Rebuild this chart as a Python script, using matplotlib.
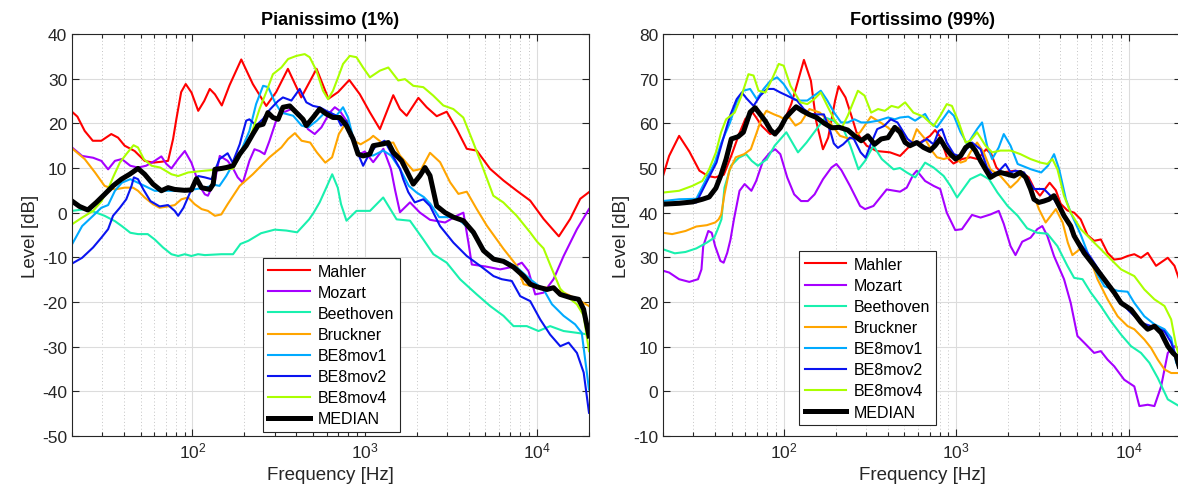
import numpy as np
import matplotlib
matplotlib.use("Agg")
import matplotlib.pyplot as plt

plt.rcParams['font.family'] = ['Liberation Sans', 'DejaVu Sans']
plt.rcParams['axes.unicode_minus'] = False

names = ["Mahler", "Mozart", "Beethoven", "Bruckner", "BE8mov1", "BE8mov2", "BE8mov4", "MEDIAN"]
colors = ["#ff0000", "#a600ff", "#19f0ae", "#ffa500", "#00aaff", "#0a14f0", "#aaff00", "#000000"]

# ---- Pianissimo (1%) ----
pia_mahler_hz = [20, 21.5, 23.7, 26.4, 29.6, 33.8, 37, 40.4, 46.2, 52.8, 59, 66, 72.2, 77.2, 80.7, 86, 91.4, 98.7, 108, 117, 126, 135, 148, 164, 192, 224, 268, 306, 358, 428, 525, 615, 700, 813, 936, 1069, 1224, 1338, 1463, 1600, 1749, 2046, 2287, 2614, 2988, 3415, 3905, 4463, 5339, 6380, 7627, 9115, 10900, 13370, 15560, 17790, 20000]
pia_mahler_db = [22.6, 21.5, 18.3, 16.1, 16.1, 17.6, 16.8, 15.0, 13.8, 11.6, 11.2, 11.4, 11.6, 16.5, 21.0, 27.0, 28.8, 26.9, 22.8, 25.0, 27.7, 26.5, 24.0, 28.5, 34.3, 28.8, 23.9, 27.0, 32.2, 25.8, 32.2, 25.5, 27.0, 29.7, 26.5, 22.5, 18.7, 22.5, 26.3, 23.2, 21.7, 25.7, 23.6, 21.6, 22.6, 18.7, 14.3, 13.9, 9.8, 7.2, 4.9, 2.7, -1.4, -5.3, -1.4, 3.1, 4.6]

pia_mozart_hz = [20, 22.9, 26.5, 29.6, 32.4, 35.5, 38.9, 43.6, 48.3, 53.8, 60.4, 66, 70.6, 75.5, 82.6, 90.3, 98.6, 110, 118, 123, 135, 144, 160, 171, 183, 196, 214, 229, 245, 262, 280, 306, 335, 375, 419, 468, 512, 560, 626, 670, 716, 782, 855, 935, 1000, 1119, 1282, 1418, 1500, 1600, 1829, 2091, 2390, 2924, 3415, 3734, 3993, 4177, 5105, 6100, 7296, 8150, 8910, 9750, 10900, 12450, 14250, 17020, 20000]
pia_mozart_db = [14.6, 12.7, 12.3, 11.6, 9.7, 11.6, 12.0, 10.5, 10.1, 10.5, 11.6, 12.6, 10.9, 9.9, 12.0, 13.8, 11.2, 6.0, 4.1, 3.8, 7.1, 12.7, 11.6, 10.1, 7.9, 6.7, 11.6, 14.2, 13.8, 13.1, 16.1, 20.6, 22.4, 23.2, 22.1, 18.7, 17.6, 19.1, 22.4, 23.6, 22.8, 20.6, 16.8, 13.1, 13.7, 11.3, 14.3, 9.8, 5.0, 0.1, 2.3, 0.0, -1.6, -2.2, -0.7, 0.0, -6.7, -11.6, -12.1, -12.7, -12.1, -11.2, -13.1, -18.3, -17.9, -14.9, -9.7, -3.7, 0.8]

pia_beethoven_hz = [20, 24, 27.7, 30.9, 35.5, 38.9, 43.6, 48.3, 55, 60.4, 67.5, 75.5, 82.6, 90.3, 98.6, 107.7, 118, 147, 172, 190, 211, 250, 300, 350, 405, 440, 475, 505, 547, 598, 647, 697, 728, 783, 895, 1072, 1279, 1530, 1829, 2186, 2500, 2988, 3570, 4463, 5339, 6380, 7296, 8710, 10180, 11900, 14250, 17020, 20000]
pia_beethoven_db = [0.4, 0.8, 0.0, -0.7, -1.9, -3.0, -4.5, -4.8, -4.8, -6.0, -7.8, -9.3, -9.7, -9.3, -9.7, -9.3, -9.5, -9.3, -9.3, -7.0, -6.3, -4.6, -3.8, -4.0, -4.4, -2.9, -1.5, 0.0, 2.3, 5.6, 8.6, 5.6, 1.9, -1.8, 0.4, 0.4, 3.4, -1.5, -1.8, -6.0, -9.3, -11.2, -14.9, -18.3, -20.9, -23.1, -25.4, -25.4, -26.5, -25.4, -26.5, -26.9, -27.3]

pia_bruckner_hz = [20, 23.7, 27.2, 30.9, 35.5, 40.4, 45.2, 48.3, 52.8, 59, 64.5, 72.2, 78.9, 86.3, 94.4, 103, 113, 123, 135, 147, 160, 188, 224, 280, 328, 359, 393, 430, 482, 527, 590, 646, 707, 791, 865, 946, 1069, 1119, 1282, 1463, 1600, 1911, 2130, 2390, 2735, 3127, 3494, 3905, 4463, 5105, 6380, 7627, 8340, 9530, 11400, 13620, 16300, 20000]
pia_bruckner_db = [14.4, 12.0, 9.0, 6.0, 5.2, 5.6, 5.6, 4.9, 3.4, 1.9, 1.1, 1.4, 1.7, 3.0, 3.4, 1.9, 0.8, 0.4, -0.7, -0.4, 1.9, 6.0, 8.6, 12.4, 14.6, 16.5, 17.8, 16.1, 15.7, 13.5, 11.2, 12.4, 17.6, 20.6, 16.1, 15.3, 16.5, 17.2, 15.4, 15.7, 12.8, 9.4, 9.8, 13.4, 11.3, 6.8, 4.2, 4.7, 0.8, -2.9, -8.1, -11.9, -16.0, -16.6, -16.8, -17.5, -19.0, -20.9]

pia_be8mov1_hz = [20, 22.9, 26.5, 29.6, 32.4, 35.5, 38.9, 43.6, 48.3, 60.4, 75.5, 94.4, 118, 135, 143.5, 157, 172, 188, 214, 234, 257, 275, 301, 328, 384, 430, 470, 527, 576, 626, 684, 748, 800, 855, 935, 1000, 1119, 1279, 1418, 1600, 1800, 2000, 2200, 2400, 2700, 3100, 3500, 4000, 4500, 5100, 5800, 6700, 7600, 8300, 9115, 10900, 12190, 14250, 16610, 18150, 20000]
pia_be8mov1_db = [-7.1, -3.0, -0.7, 1.1, 1.7, 4.9, 6.7, 7.5, 6.7, 4.9, 4.9, 5.0, 5.6, 6.2, 6.0, 8.2, 10.9, 13.1, 18.3, 24.3, 28.4, 28.1, 24.7, 22.4, 21.7, 19.5, 19.1, 20.6, 22.1, 22.4, 21.7, 23.6, 21.3, 16.8, 13.1, 12.8, 12.8, 13.9, 12.8, 9.8, 6.0, 4.5, 3.5, 2.0, -1.0, -1.0, -1.5, -3.5, -6.0, -9.0, -10.5, -11.0, -12.2, -13.5, -14.9, -17.2, -20.5, -23.1, -25.0, -26.9, -39.6]

pia_be8mov2_hz = [20, 22.9, 26.5, 29.6, 32.4, 34.6, 37.9, 41.3, 44.3, 45.7, 48.3, 51.9, 57, 64.5, 72.2, 78.9, 82.6, 88.7, 98.6, 108, 118, 129, 143.5, 160, 171, 188, 205, 214, 234, 257, 280, 314, 335, 375, 419, 458, 501, 547, 598, 684, 728, 782, 855, 935, 978, 1049, 1167, 1301, 1418, 1600, 1671, 1788, 1950, 2186, 2390, 2733, 3266, 3905, 4670, 5585, 6240, 7130, 7980, 9115, 10420, 11900, 13620, 15230, 17020, 18630, 20000]
pia_be8mov2_db = [-11.4, -10.1, -7.8, -5.6, -3.7, -0.7, 1.1, 3.0, 6.0, 7.9, 7.5, 5.2, 2.6, 1.4, 1.7, 0.4, -0.7, 1.1, 5.2, 8.2, 7.9, 7.5, 12.0, 13.3, 11.2, 15.3, 20.6, 20.9, 19.5, 21.0, 23.0, 25.0, 25.8, 25.1, 27.7, 24.7, 23.9, 23.6, 22.8, 21.7, 19.5, 20.6, 16.1, 12.3, 10.5, 12.8, 15.0, 16.1, 13.5, 9.8, 7.5, 4.6, 2.3, 3.0, 1.5, -3.0, -6.7, -9.7, -11.9, -14.2, -14.9, -15.3, -18.7, -19.8, -23.9, -27.3, -29.9, -29.1, -31.4, -35.8, -44.8]

pia_be8mov4_hz = [20, 22.9, 26.5, 29.6, 33, 34.6, 37.9, 41.3, 45.5, 48.3, 52.2, 58, 65, 75.5, 82.6, 94.4, 118, 135, 147, 172, 193, 215, 245, 268, 293, 328, 359, 401, 448, 479, 524, 572, 612, 654, 700, 748, 818, 895, 977, 1071, 1224, 1369, 1564, 1711, 1912, 2185, 2497, 2855, 3263, 3729, 4262, 4871, 5567, 6363, 7612, 9101, 10000, 10900, 12000, 13600, 15200, 17000, 18600, 20000]
pia_be8mov4_db = [-2.6, -1.1, 0.4, 2.5, 6.0, 7.9, 11.2, 13.1, 15.1, 14.6, 12.0, 10.5, 10.1, 8.6, 8.2, 9.0, 9.4, 9.6, 9.7, 9.8, 13.5, 16.5, 23.2, 27.0, 31.0, 32.5, 34.4, 35.1, 35.5, 34.8, 31.8, 27.3, 25.4, 27.3, 30.3, 33.3, 35.1, 34.8, 32.5, 30.3, 31.8, 32.5, 29.6, 29.9, 28.4, 28.1, 26.2, 24.0, 23.2, 21.3, 15.7, 9.8, 3.8, 2.3, -0.7, -4.4, -6.5, -8.0, -12.0, -17.0, -19.0, -20.5, -23.0, -31.0]

pia_median_hz = [20, 22.1, 24.7, 27.7, 30.9, 34.6, 38.7, 43.2, 48.3, 52.8, 59, 66, 72.2, 78.9, 90.3, 98.6, 105.5, 112.8, 126, 132, 135, 147.5, 157, 172, 188, 205, 224, 240, 257, 274, 293, 314, 335, 367, 401, 438, 458, 501, 547, 598, 654, 716, 782, 855, 914, 977, 1069, 1119, 1279, 1368, 1463, 1636, 1911, 2091, 2236, 2390, 2614, 2924, 3266, 3734, 4270, 4883, 5585, 6380, 7296, 8340, 9115, 9970, 11400, 12450, 13620, 15560, 17410, 18600, 20000]
pia_median_db = [2.6, 1.4, 0.6, 2.3, 4.1, 6.0, 7.5, 8.6, 9.9, 8.6, 6.4, 4.9, 5.6, 5.2, 5.0, 5.1, 7.6, 5.6, 5.2, 6.4, 9.7, 9.9, 10.1, 10.5, 13.1, 15.0, 17.6, 19.5, 19.8, 22.4, 21.3, 20.9, 23.6, 23.9, 22.4, 20.9, 19.5, 21.3, 23.2, 22.1, 21.3, 21.3, 19.5, 16.5, 13.1, 12.7, 13.1, 15.0, 15.4, 15.7, 13.5, 11.6, 6.4, 8.3, 10.1, 8.3, 1.5, 0.0, -1.0, -1.8, -4.4, -8.5, -10.4, -10.9, -12.2, -14.2, -16.0, -16.6, -17.2, -16.8, -18.3, -19.0, -19.4, -21.6, -27.6]

# ---- Fortissimo (99%) ----
for_mahler_hz = [20, 21.7, 24.8, 28.4, 32.5, 36.5, 40.1, 45, 50, 55, 60, 66.2, 69.3, 74.3, 83.5, 91.7, 100.7, 110.6, 118, 131, 143.8, 154, 168.8, 181, 198.5, 208, 228, 250, 264, 302, 346, 413, 472, 540, 617, 704, 753, 806, 880, 962, 1077, 1204, 1329, 1488, 1594, 1706, 1826, 2190, 2398, 2625, 2815, 3050, 3470, 3770, 4020, 4395, 4810, 5250, 5740, 6280, 6870, 7510, 8200, 8990, 9810, 10730, 11730, 12830, 14340, 16760, 18340, 19500, 20000]
for_mahler_db = [48.2, 52.7, 57.2, 53.7, 49.4, 48.2, 47.9, 48.5, 53.0, 57.5, 61.0, 62.4, 61.3, 59.5, 57.6, 58.3, 60.6, 64.3, 68.0, 74.2, 69.5, 60.6, 54.2, 56.8, 65.1, 68.3, 65.8, 61.0, 58.0, 55.0, 53.8, 53.5, 52.7, 55.0, 55.7, 57.2, 58.5, 57.0, 52.5, 51.0, 52.0, 52.4, 52.0, 54.2, 53.1, 50.1, 49.0, 49.4, 49.0, 47.9, 45.5, 43.8, 46.7, 45.0, 42.0, 40.5, 40.0, 38.5, 35.0, 33.7, 34.0, 31.0, 29.5, 29.7, 30.3, 30.7, 29.9, 31.0, 28.1, 29.9, 28.1, 25.1, 24.5]

for_mozart_hz = [20, 21.7, 24.8, 28.4, 31.9, 33.4, 34.2, 36.6, 38.3, 40.1, 43, 44.9, 47.1, 49.2, 51.5, 55.5, 59.4, 65, 69.3, 75.9, 83.5, 89.3, 95.6, 104.8, 115, 126, 138, 151, 169, 189, 202, 216, 242, 277, 296, 331, 395, 472, 516, 563, 590, 659, 738, 806, 880, 985, 1077, 1232, 1381, 1575, 1760, 1882, 2060, 2200, 2407, 2690, 2940, 3145, 3364, 3676, 4204, 4595, 5025, 5494, 6280, 6865, 7510, 8210, 9380, 10730, 11480, 12830, 14030, 15340, 16770, 18340, 20000]
for_mozart_db = [27.0, 26.6, 25.1, 24.5, 25.1, 27.3, 32.5, 35.9, 35.5, 32.5, 29.2, 28.8, 31.0, 34.0, 38.5, 44.9, 46.4, 44.9, 47.1, 51.6, 53.5, 54.2, 53.1, 47.9, 44.1, 42.6, 42.6, 44.1, 47.5, 50.1, 50.9, 49.5, 46.0, 41.5, 40.8, 41.5, 45.2, 44.7, 45.6, 48.5, 49.4, 47.1, 46.0, 45.3, 40.0, 36.1, 36.3, 39.5, 38.9, 39.6, 40.4, 37.5, 32.5, 30.5, 33.5, 34.4, 36.3, 37.0, 34.8, 30.3, 25.1, 19.8, 12.4, 10.9, 8.6, 9.0, 7.1, 5.6, 2.6, 1.1, -3.3, -3.0, -3.3, 1.1, 8.6, 10.1, 9.4]

for_beethoven_hz = [20, 23.4, 27, 31.2, 35.9, 39.6, 41.5, 43.6, 45.4, 49.5, 55, 60.6, 65.3, 70.9, 80, 88.7, 103.6, 121, 135.6, 155, 174, 194, 222, 243, 271, 296, 331, 370, 433, 472, 516, 578, 659, 738, 845, 924, 1010, 1077, 1204, 1381, 1545, 1730, 1980, 2265, 2570, 2940, 3364, 3850, 4395, 4810, 5380, 6010, 6865, 7850, 8990, 10280, 11730, 13110, 14670, 16770, 19500, 20000]
for_beethoven_db = [31.8, 30.9, 31.2, 32.0, 33.3, 34.4, 36.3, 38.5, 45.6, 50.5, 52.3, 53.1, 51.6, 50.5, 52.0, 55.0, 58.0, 53.5, 55.7, 58.7, 61.3, 60.6, 58.7, 55.0, 49.7, 51.6, 55.0, 52.0, 49.7, 50.0, 49.0, 47.9, 51.2, 50.1, 48.2, 46.0, 43.4, 44.9, 47.5, 48.6, 47.5, 44.5, 41.5, 39.3, 36.5, 35.5, 35.3, 32.5, 28.1, 25.4, 25.1, 22.1, 19.1, 15.7, 12.7, 10.1, 8.6, 6.4, 3.0, -1.8, -3.3, -3.4]

for_bruckner_hz = [20, 22.6, 27, 31.2, 35.9, 40.1, 42, 43.5, 45.4, 48.4, 52.8, 59, 64.5, 69.3, 74.3, 79.4, 88, 95, 100, 108, 117, 126, 141, 162, 185, 212, 242, 277, 320, 370, 420, 472, 505, 539, 590, 659, 720, 772, 845, 967, 1058, 1132, 1204, 1318, 1440, 1575, 1801, 2060, 2265, 2463, 2690, 3006, 3290, 3522, 3770, 4127, 4420, 4700, 5260, 5880, 6565, 7510, 8590, 9810, 10730, 12270, 13420, 14670, 16050, 17540, 20000]
for_bruckner_db = [35.5, 35.2, 35.9, 36.9, 37.2, 37.8, 38.5, 39.6, 44.1, 49.4, 52.4, 53.1, 54.2, 57.6, 61.0, 62.8, 62.0, 61.5, 61.0, 61.3, 59.5, 60.2, 63.2, 62.4, 60.2, 57.2, 56.5, 58.0, 61.5, 60.0, 58.5, 59.1, 56.5, 54.6, 58.7, 56.5, 53.9, 52.4, 52.0, 52.7, 51.2, 51.6, 53.5, 55.7, 53.5, 49.7, 48.2, 45.6, 47.1, 49.0, 46.0, 40.8, 37.8, 39.3, 40.8, 37.8, 33.3, 30.5, 32.0, 30.3, 25.1, 20.6, 16.8, 14.6, 13.9, 11.6, 9.7, 7.1, 4.9, 4.1, 4.1]

for_be8mov1_hz = [20, 24.8, 31.2, 35.6, 39.9, 43.6, 48.9, 53.4, 58.4, 63.9, 69.9, 76.5, 83.7, 91.6, 100, 114, 125, 137, 150, 164, 179, 196, 215, 235, 257, 281, 307, 352, 402, 440, 472, 527, 577, 659, 704, 772, 903, 967, 1058, 1158, 1318, 1409, 1506, 1612, 1760, 1882, 2060, 2265, 2710, 3100, 3390, 3680, 3940, 4310, 4595, 5260, 5900, 6600, 7200, 8590, 9810, 10730, 12270, 14030, 16050, 17540, 18760, 20000]
for_be8mov1_db = [42.6, 43.0, 43.1, 47.5, 51.2, 55.7, 60.2, 64.7, 67.3, 67.7, 65.4, 67.7, 69.5, 70.3, 68.8, 65.4, 65.1, 65.1, 66.2, 67.3, 65.1, 62.4, 60.2, 60.2, 60.9, 60.2, 60.2, 60.6, 61.3, 60.9, 61.3, 61.5, 60.6, 62.1, 60.2, 59.1, 62.8, 61.7, 58.0, 55.3, 58.7, 60.2, 55.0, 52.0, 54.6, 57.6, 55.0, 50.9, 49.7, 49.0, 50.5, 53.1, 49.7, 43.0, 40.0, 35.0, 30.0, 26.0, 23.5, 22.5, 22.3, 19.8, 16.8, 15.0, 13.9, 12.0, 6.4, 4.5]

for_be8mov2_hz = [20, 31.2, 35.6, 40.8, 44.6, 48.9, 53.4, 57.2, 61.2, 66.9, 73.2, 80, 87.5, 95.7, 104.6, 119.6, 130.8, 143, 156, 171, 187, 195, 206, 221, 242, 255, 279, 298, 319, 348, 381, 417, 456, 522, 571, 625, 675, 738, 790, 826, 880, 967, 1033, 1108, 1232, 1381, 1506, 1647, 1801, 1925, 2060, 2200, 2463, 2815, 3215, 3676, 4204, 5000, 6000, 7000, 8000, 9000, 10000, 11000, 12000, 14000, 16000, 17500, 18500, 20000]
for_be8mov2_db = [41.9, 42.3, 46.7, 51.2, 56.5, 61.7, 65.4, 66.9, 65.5, 63.9, 66.2, 67.7, 67.7, 66.9, 66.2, 65.1, 63.2, 62.1, 62.0, 62.0, 58.0, 55.5, 54.5, 55.3, 56.8, 56.5, 53.5, 52.3, 55.3, 58.7, 59.4, 60.9, 60.2, 56.5, 55.3, 55.7, 56.5, 55.3, 58.3, 58.7, 55.7, 53.1, 52.7, 53.5, 55.7, 54.2, 50.1, 48.2, 49.7, 50.9, 49.0, 49.4, 49.0, 45.3, 45.3, 43.0, 39.3, 34.0, 30.0, 26.0, 23.0, 20.0, 18.0, 16.5, 15.2, 14.4, 13.5, 11.0, 8.5, 3.0]

for_be8mov4_hz = [20, 24.8, 29.6, 33.8, 37, 40.5, 43.4, 46.4, 52, 57, 62.5, 66.9, 71.5, 78.3, 85.6, 93.6, 100, 109.5, 125, 137, 150, 164, 179, 196, 215, 235, 269, 294, 321, 352, 385, 421, 461, 505, 564, 645, 738, 806, 880, 943, 1033, 1132, 1204, 1318, 1475, 1612, 1801, 2060, 2350, 2690, 3080, 3364, 3600, 3850, 4200, 4595, 5260, 6280, 7510, 8990, 10730, 12270, 14030, 16050, 17540, 18760, 20000]
for_be8mov4_db = [44.5, 44.9, 46.0, 47.1, 49.7, 53.5, 58.0, 60.9, 62.4, 66.2, 71.0, 70.7, 67.3, 66.9, 69.9, 73.3, 72.9, 68.4, 64.7, 64.3, 65.4, 66.9, 63.9, 60.9, 58.7, 61.7, 67.3, 66.2, 62.4, 63.2, 62.8, 63.9, 63.5, 64.7, 62.4, 61.5, 59.4, 61.7, 64.3, 63.9, 60.2, 55.7, 56.1, 58.0, 55.0, 53.5, 53.9, 53.9, 53.1, 52.0, 51.2, 50.9, 52.0, 49.7, 43.8, 40.0, 36.3, 33.3, 30.3, 27.3, 25.8, 22.8, 20.6, 19.1, 16.1, 10.1, 6.5]

for_median_hz = [20, 24.8, 29.6, 33.8, 37, 40.5, 43.4, 46.4, 49.7, 54.4, 58.4, 63.9, 68.3, 73.2, 78.3, 84, 89, 95.7, 103, 110, 118, 128, 140, 155, 172, 190, 210, 235, 257, 281, 307, 336, 367, 402, 440, 472, 505, 539, 590, 645, 704, 753, 806, 862, 924, 990, 1058, 1132, 1204, 1288, 1381, 1475, 1575, 1690, 1801, 1970, 2155, 2350, 2520, 2690, 2815, 3006, 3215, 3440, 3676, 3940, 4204, 4595, 4810, 5490, 6280, 7180, 8210, 8990, 10280, 11730, 12830, 14030, 15340, 16770, 17940, 18760, 19500, 20000]
for_median_db = [41.9, 42.1, 42.4, 43.0, 43.5, 45.5, 48.5, 52.0, 56.5, 57.0, 58.0, 62.5, 63.5, 62.0, 60.5, 58.5, 57.6, 59.0, 61.3, 62.5, 63.7, 62.8, 62.0, 61.3, 60.0, 59.0, 59.1, 58.5, 57.2, 56.1, 57.2, 55.3, 56.5, 56.8, 59.1, 58.0, 55.7, 55.0, 55.7, 54.6, 53.9, 55.0, 56.5, 54.6, 53.1, 52.0, 52.7, 54.6, 55.3, 53.9, 51.6, 49.7, 47.9, 48.6, 49.0, 48.6, 48.2, 49.0, 47.9, 45.3, 43.0, 42.3, 42.6, 43.0, 43.8, 41.5, 39.3, 37.0, 34.8, 31.0, 28.1, 25.1, 22.1, 19.8, 18.3, 15.4, 13.9, 14.6, 13.1, 10.1, 8.6, 7.9, 5.6, 5.5]

pia_series = [(pia_mahler_hz, pia_mahler_db), (pia_mozart_hz, pia_mozart_db),
              (pia_beethoven_hz, pia_beethoven_db), (pia_bruckner_hz, pia_bruckner_db),
              (pia_be8mov1_hz, pia_be8mov1_db), (pia_be8mov2_hz, pia_be8mov2_db),
              (pia_be8mov4_hz, pia_be8mov4_db), (pia_median_hz, pia_median_db)]
for_series = [(for_mahler_hz, for_mahler_db), (for_mozart_hz, for_mozart_db),
              (for_beethoven_hz, for_beethoven_db), (for_bruckner_hz, for_bruckner_db),
              (for_be8mov1_hz, for_be8mov1_db), (for_be8mov2_hz, for_be8mov2_db),
              (for_be8mov4_hz, for_be8mov4_db), (for_median_hz, for_median_db)]

W, H = 1178, 502
fig = plt.figure(figsize=(W / 100, H / 100), dpi=100)
ax1 = fig.add_axes([72 / W, 65 / H, 517 / W, 402 / H])
ax2 = fig.add_axes([663 / W, 65 / H, 518 / W, 402 / H])

dark = "#262626"


def style(ax, series, title, ylim, legend_anchor):
    for (f, v), name, c in zip(series, names, colors):
        lw = 3.6 if name == "MEDIAN" else 1.5
        ax.plot(f, v, color=c, lw=lw, label=name, solid_joinstyle="round")
    ax.set_xscale("log")
    ax.set_xlim(20, 20000)
    ax.set_ylim(*ylim)
    ax.set_yticks(np.arange(ylim[0], ylim[1] + 1, 10))
    ax.set_xticks([100, 1000, 10000])
    ax.grid(True, which="major", color="#dcdcdc", lw=0.8, ls="-")
    ax.grid(True, which="minor", axis="x", color="#c4c4c4", lw=0.7, ls=(0, (1, 2.5)))
    ax.set_axisbelow(True)
    ax.tick_params(which="both", direction="in", top=True, right=True, colors=dark,
                   labelsize=12.5, width=0.8)
    ax.tick_params(which="major", length=5)
    ax.tick_params(which="minor", length=3)
    for s in ax.spines.values():
        s.set_color(dark)
        s.set_linewidth(0.8)
    ax.set_title(title, fontsize=13, fontweight="bold", color="black", pad=7)
    ax.set_xlabel("Frequency [Hz]", fontsize=13.5, color=dark, labelpad=4)
    ax.set_ylabel("Level [dB]", fontsize=13.5, color=dark, labelpad=2)
    leg = ax.legend(loc="lower left", bbox_to_anchor=legend_anchor, fontsize=11.5,
                    frameon=True, fancybox=False, framealpha=1, edgecolor=dark,
                    handlelength=2.6, handletextpad=0.5, labelspacing=0.38,
                    borderpad=0.35, borderaxespad=0)
    leg.get_frame().set_linewidth(0.8)


style(ax1, pia_series, "Pianissimo (1%)", (-50, 40), (0.369, 0.01))
style(ax2, for_series, "Fortissimo (99%)", (-10, 80), (0.2625, 0.027))

fig.savefig("out.png", dpi=100)
